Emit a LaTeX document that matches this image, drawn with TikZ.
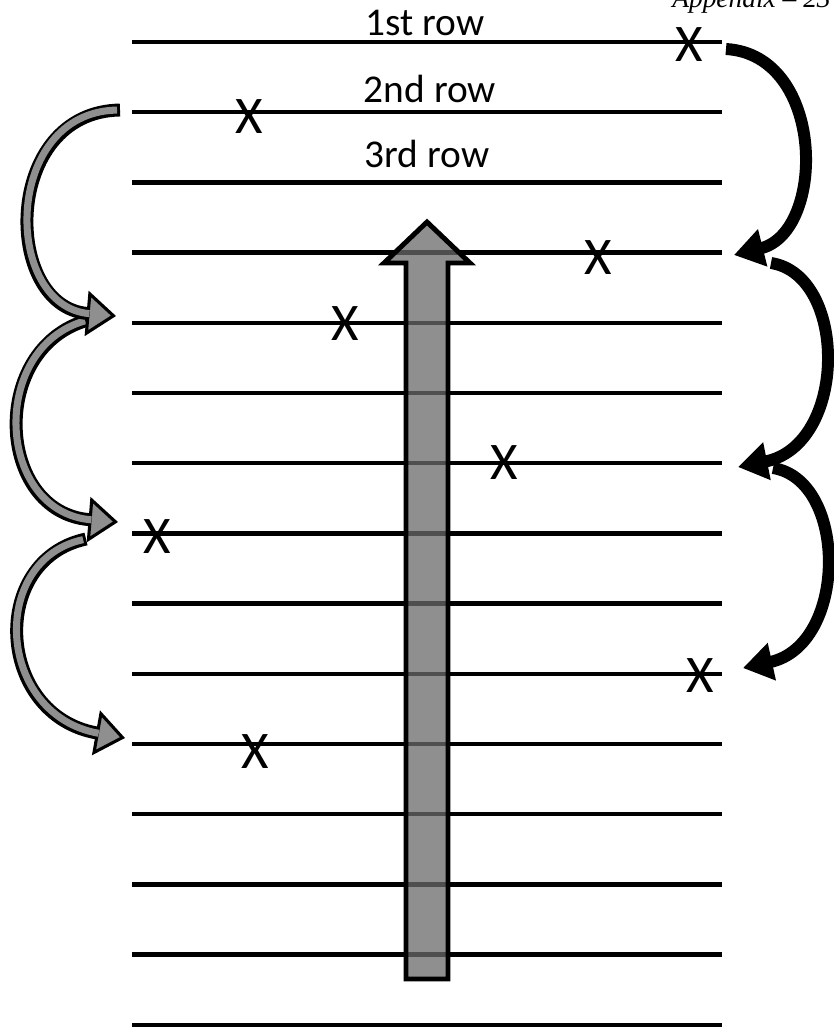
\documentclass[tikz,border=0pt]{standalone}
\usepackage{fontspec}
\setmainfont{Carlito}
\newfontfamily\headfont{Liberation Serif}
\usepackage{tikz}
\usetikzlibrary{arrows.meta}
\definecolor{arrowGrey}{HTML}{8F8F8F}
\definecolor{shaftGrey}{HTML}{6A6A6A}

\begin{document}
\begin{tikzpicture}[x=0.025cm, y=-0.025cm,
    rowline/.style={line width=3.2pt},
    rowlabel/.style={font=\fontsize{28}{30}\selectfont, anchor=base, inner sep=0pt},
    xmark/.style={font=\fontsize{37.6}{40}\selectfont, inner sep=0pt},
    blackarr/.style={line width=8.5pt, -{Triangle[length=21pt, width=26pt]}},
    greyarr/.style={line width=9.2pt,
                    -{Triangle[length=21pt, width=32pt, fill=arrowGrey, line width=2.2pt 0]}},
    greycore/.style={line width=5pt, arrowGrey, shorten >=19pt, shorten <=2.1pt}]
  \useasboundingbox (0,0) rectangle (834,1027);
  \node[anchor=base west, inner sep=0pt, font=\headfont\itshape\fontsize{19.5}{21}\selectfont]
       (page) at (672,7) {Appendix – 23};
  % rows
  \foreach \r in {1,...,15}{
    \coordinate (r\r L) at (132,{42+70.2*(\r-1)});
    \coordinate (r\r R) at (722,{42+70.2*(\r-1)});
    \draw[rowline] (r\r L) -- (r\r R);
  }
  \node[rowlabel] (l1) at (425,35) {1st row};
  \node[rowlabel] (l2) at (430,102) {2nd row};
  \node[rowlabel] (l3) at (427,167) {3rd row};
  % vertical arrow
  \draw[line width=3.5pt, fill=shaftGrey, fill opacity=0.75]
    (406,979) -- (406,263) -- (384,263) -- (427,222) -- (470,263)
    -- (448,263) -- (448,979) -- cycle;
  % marks
  \node[xmark] (x1) at (689,45) {X};
  \node[xmark] (x2) at (249,117) {X};
  \node[xmark] (x4) at (598,258) {X};
  \node[xmark] (x5) at (345,324) {X};
  \node[xmark] (x7) at (504,463) {X};
  \node[xmark] (x8) at (157,537) {X};
  \node[xmark] (x10) at (700,676) {X};
  \node[xmark] (x11) at (255,752) {X};
  % black arrows on the right
  \coordinate (b1s) at (726,49);  \coordinate (b1e) at (734,255);
  \coordinate (b2s) at (771,263); \coordinate (b2e) at (738,467);
  \coordinate (b3s) at (773,468); \coordinate (b3e) at (743,668);
  \draw[blackarr] (b1s) .. controls (826,55) and (826,232) .. (b1e);
  \draw[blackarr] (b2s) .. controls (848,275) and (848,445) .. (b2e);
  \draw[blackarr] (b3s) .. controls (848,480) and (848,645) .. (b3e);
  % grey arrows on the left
  \coordinate (g1s) at (120,110); \coordinate (g1e) at (116,316);
  \coordinate (g2s) at (88,320);  \coordinate (g2e) at (118,522);
  \coordinate (g3s) at (86,539);  \coordinate (g3e) at (125,738);
  \draw[greyarr] (g3s) .. controls (-12,560) and (-4,715) .. (g3e);
  \draw[greycore] (g3s) .. controls (-12,560) and (-4,715) .. (g3e);
  \draw[greyarr] (g2s) .. controls (-12,348) and (-4,512) .. (g2e);
  \draw[greycore] (g2s) .. controls (-12,348) and (-4,512) .. (g2e);
  \draw[greyarr] (g1s) .. controls (2,112) and (2,306) .. (g1e);
  \draw[greycore] (g1s) .. controls (2,112) and (2,306) .. (g1e);
\end{tikzpicture}
\end{document}
